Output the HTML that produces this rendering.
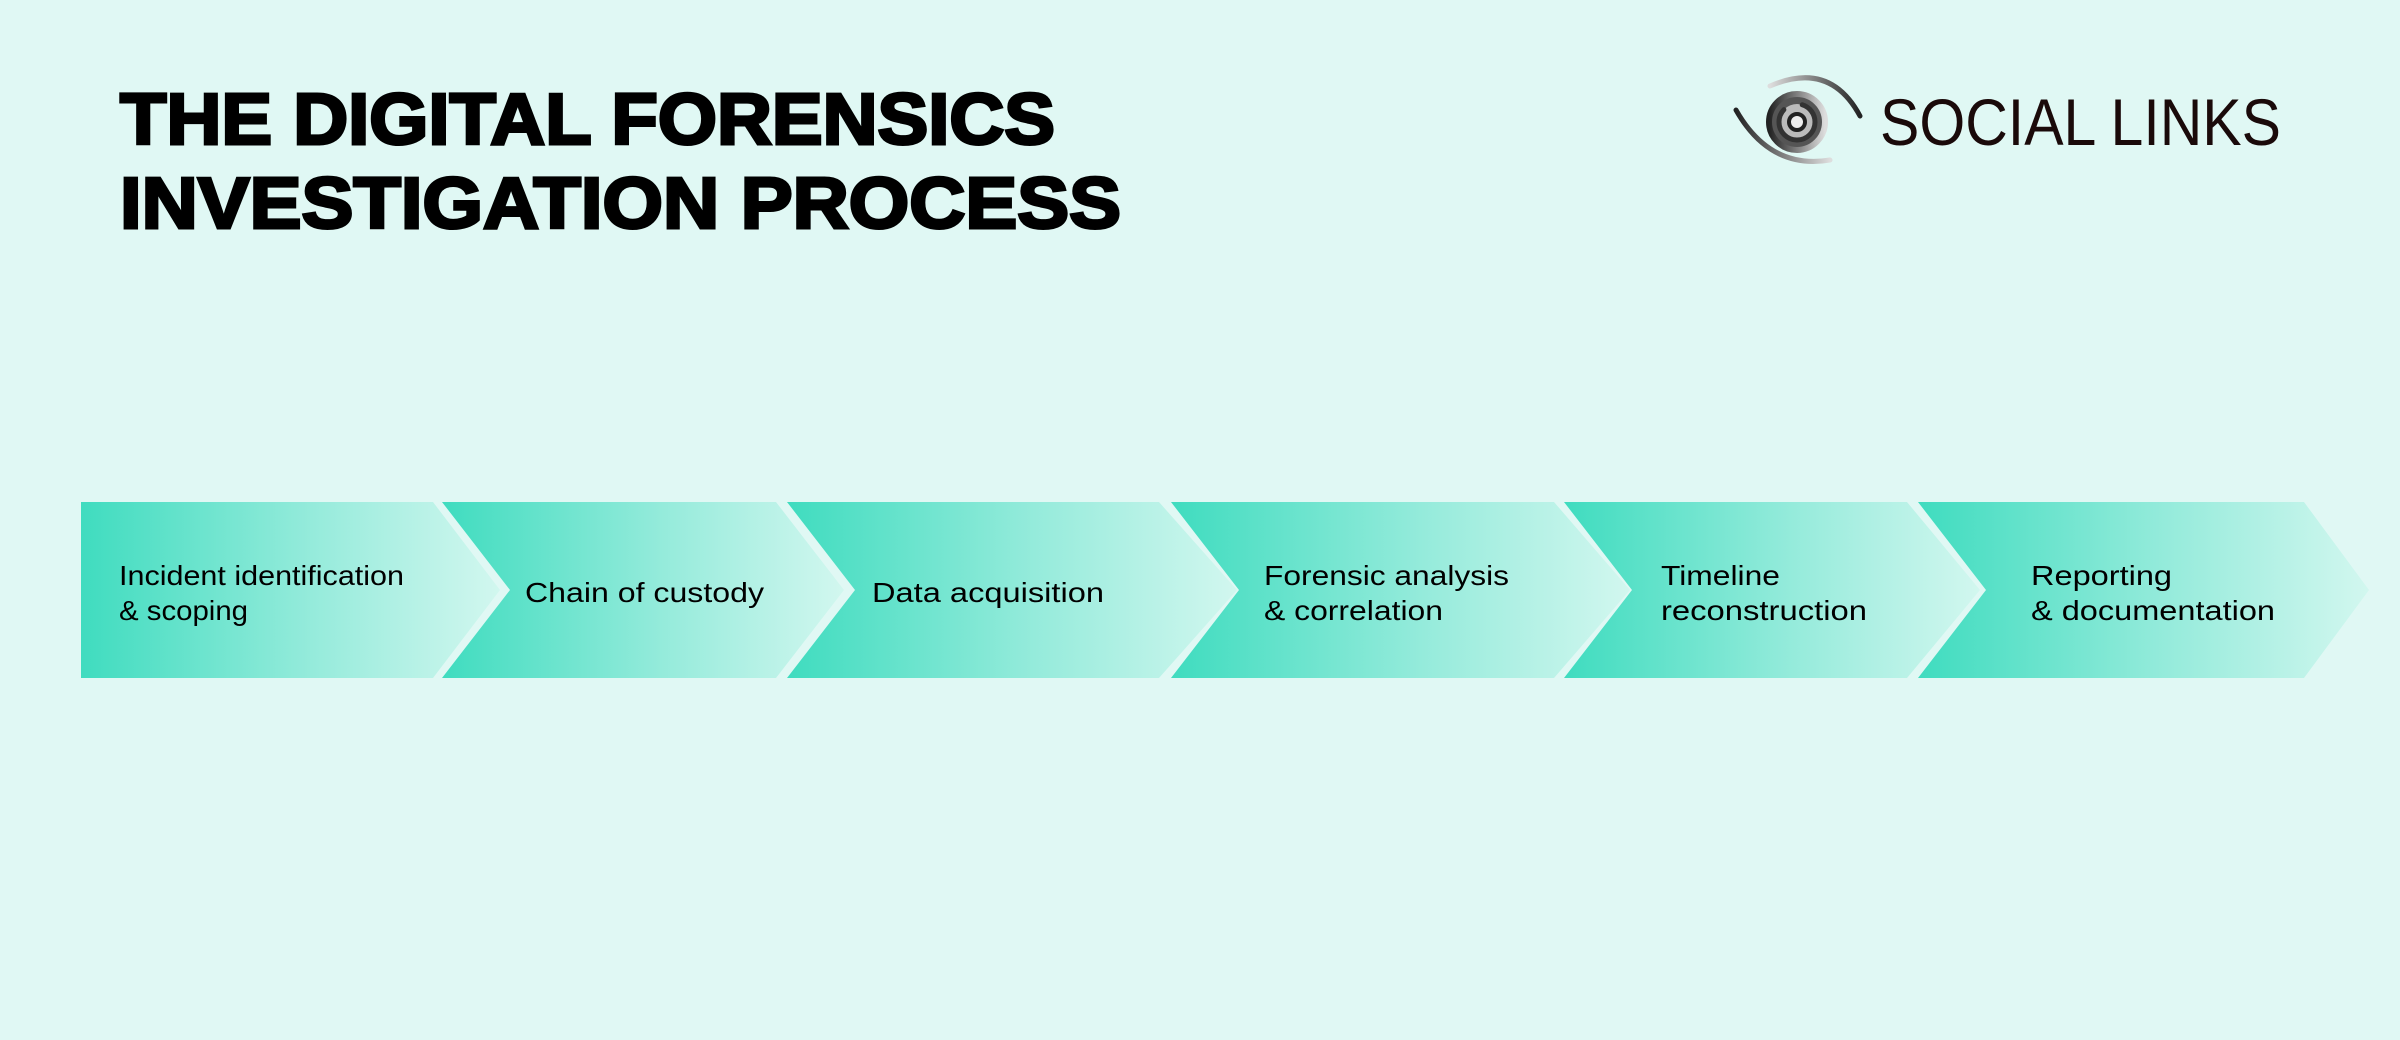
<!DOCTYPE html>
<html><head><meta charset="utf-8"><style>
html,body{margin:0;padding:0;background:#e0f8f4;}
svg{display:block}
</style></head><body>
<svg width="2400" height="1040" viewBox="0 0 2400 1040" xmlns="http://www.w3.org/2000/svg">
<defs>
<linearGradient id="g" x1="0" y1="0.5" x2="1" y2="0.5">
<stop offset="0" stop-color="#3fdcbf"/>
<stop offset="0.55" stop-color="#95ebdb"/>
<stop offset="1" stop-color="#d2f7ef"/>
</linearGradient>
<linearGradient id="ring" x1="0" y1="0" x2="1" y2="0">
<stop offset="0" stop-color="#222"/><stop offset="1" stop-color="#ddd"/>
</linearGradient>
<linearGradient id="ring2" x1="1" y1="0" x2="0" y2="0">
<stop offset="0" stop-color="#222"/><stop offset="1" stop-color="#ddd"/>
</linearGradient>
</defs>
<rect width="2400" height="1040" fill="#e0f8f4"/>
<g font-family="Liberation Sans, Arial, sans-serif" font-weight="900" font-size="72" fill="#000">
<text x="120" y="144" textLength="935" lengthAdjust="spacingAndGlyphs" stroke="#000" stroke-width="3">THE DIGITAL FORENSICS</text>
<text x="120" y="228" textLength="1001" lengthAdjust="spacingAndGlyphs" stroke="#000" stroke-width="3">INVESTIGATION PROCESS</text>
</g>
<!-- logo -->
<g fill="none" stroke-linecap="round">
<path d="M1736 110 Q1770 170 1830 160" stroke="url(#ring)" stroke-width="5"/>
<path d="M1860 116 Q1830 60 1770 86" stroke="url(#ring2)" stroke-width="5"/>
<circle cx="1797" cy="122" r="28" fill="#555" stroke="none"/>
<circle cx="1797" cy="122" r="28" stroke="url(#ring)" stroke-width="6"/>
<circle cx="1797" cy="122" r="18" fill="#bbb" stroke="#333" stroke-width="5" stroke-dasharray="70 20"/>
<circle cx="1797" cy="122" r="8" fill="#eee" stroke="#222" stroke-width="4"/>
</g>
<text x="1880" y="145" font-family="Liberation Sans, Arial, sans-serif" font-size="66" fill="#1a0a0a" textLength="401" lengthAdjust="spacingAndGlyphs">SOCIAL LINKS</text>
<!-- chevrons -->
<g fill="url(#g)">
<polygon points="81,502 433,502 500,590 433,678 81,678"/>
<polygon points="442,502 776,502 844,590 776,678 442,678 510,590"/>
<polygon points="787,502 1159,502 1237,590 1159,678 787,678 855,590"/>
<polygon points="1171,502 1554,502 1630,590 1554,678 1171,678 1239,590"/>
<polygon points="1564,502 1907,502 1980,590 1907,678 1564,678 1632,590"/>
<polygon points="1918,502 2304,502 2369,590 2304,678 1918,678 1986,590"/>
</g>
<g font-family="Liberation Sans, Arial, sans-serif" font-size="28" fill="#000">
<text x="119" y="585" textLength="285" lengthAdjust="spacingAndGlyphs">Incident identification</text>
<text x="119" y="620" textLength="129" lengthAdjust="spacingAndGlyphs">&amp; scoping</text>
<text x="525" y="602" textLength="239" lengthAdjust="spacingAndGlyphs">Chain of custody</text>
<text x="872" y="602" textLength="232" lengthAdjust="spacingAndGlyphs">Data acquisition</text>
<text x="1264" y="585" textLength="245" lengthAdjust="spacingAndGlyphs">Forensic analysis</text>
<text x="1264" y="620" textLength="179" lengthAdjust="spacingAndGlyphs">&amp; correlation</text>
<text x="1661" y="585" textLength="119" lengthAdjust="spacingAndGlyphs">Timeline</text>
<text x="1661" y="620" textLength="206" lengthAdjust="spacingAndGlyphs">reconstruction</text>
<text x="2031" y="585" textLength="141" lengthAdjust="spacingAndGlyphs">Reporting</text>
<text x="2031" y="620" textLength="244" lengthAdjust="spacingAndGlyphs">&amp; documentation</text>
</g>
</svg>
</body></html>
